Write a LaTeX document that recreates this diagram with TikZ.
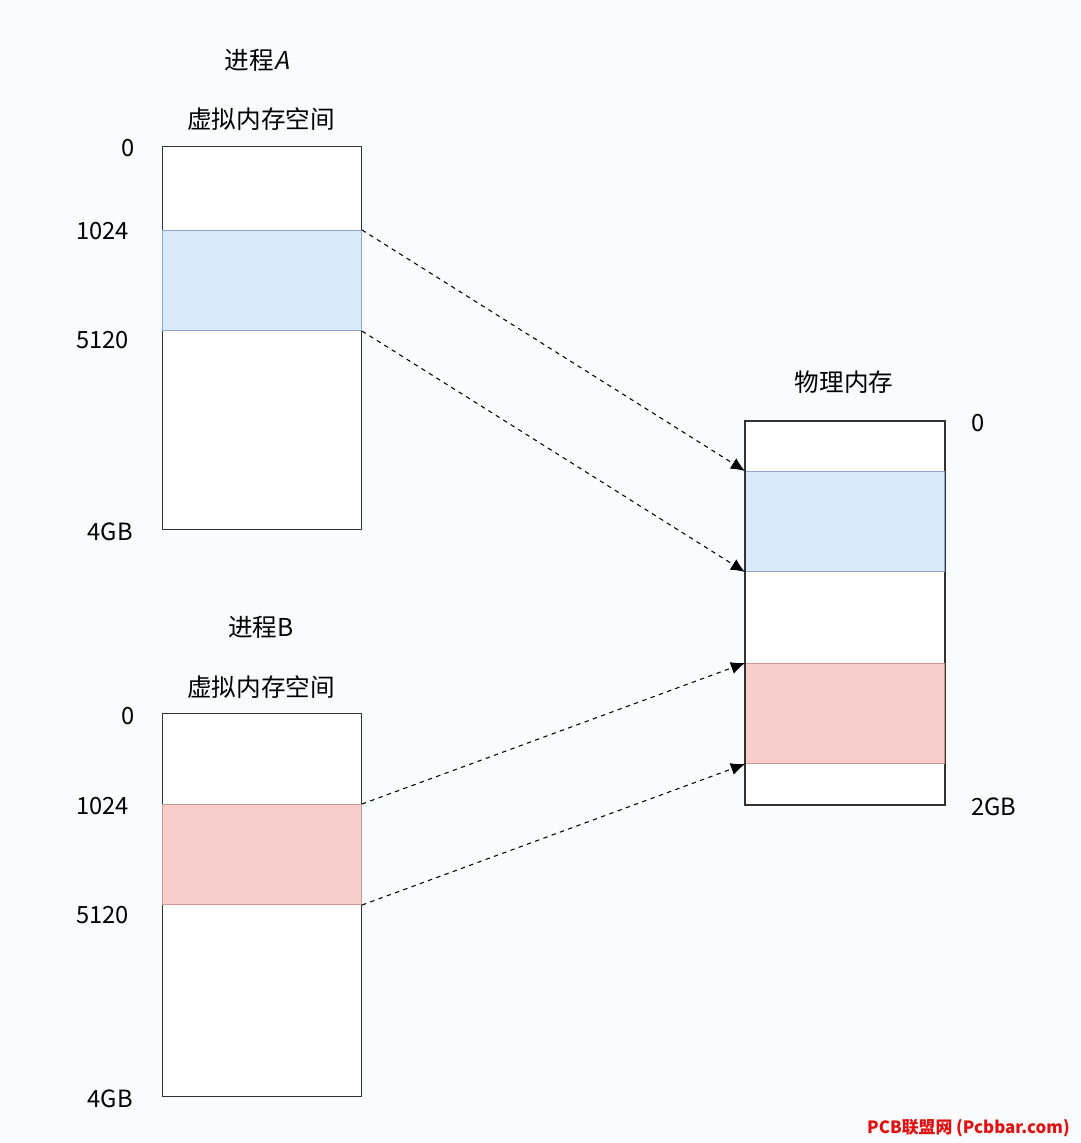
\documentclass[tikz,border=0pt]{standalone}
\usepackage{fontspec}
\setmainfont{Noto Sans CJK SC}
\newfontfamily\slantcjk[FakeSlant=0.2]{Noto Sans CJK SC}
\usepackage{tikz}
\usetikzlibrary{arrows.meta,positioning}
\definecolor{PageBg}{HTML}{FAFBFC}
\definecolor{BoxLine}{HTML}{333333}
\definecolor{BlueFill}{HTML}{DAE8FC}
\definecolor{BlueLine}{HTML}{8FA8CC}
\definecolor{RedFill}{HTML}{F8CECC}
\definecolor{RedLine}{HTML}{C99794}
\definecolor{MarkRed}{HTML}{E01010}
\tikzset{
  membox/.style={draw=BoxLine,fill=white,line width=0.8pt,anchor=north west,
    minimum width=3.98cm,minimum height=7.66cm,inner sep=0pt},
  bluepage/.style={draw=BlueLine,fill=BlueFill,line width=0.6pt,anchor=north west,
    minimum width=3.98cm,minimum height=2cm,inner sep=0pt},
  redpage/.style={bluepage,draw=RedLine,fill=RedFill},
  addr/.style={font=\fontsize{13.5}{16}\selectfont,inner sep=1pt},
  title/.style={font=\fontsize{14}{17}\selectfont,inner sep=1pt},
  maplink/.style={-{Latex[length=8pt,width=7pt]},dash pattern=on 2.5pt off 2.5pt,line width=0.6pt,color=black}
}

\begin{document}
\begin{tikzpicture}[x=0.02cm,y=-0.02cm]
  \fill[PageBg] (0,0) rectangle (1080,1143);
  \useasboundingbox (0,0) rectangle (1080,1143);

  % process A
  \node[title] (procA) at (257,60) {进程{\slantcjk A}};
  \node[title] (vtitleA) at (261,119) {虚拟内存空间};
  \node[membox] (vmA) at (162,146) {};
  \node[bluepage] (pageA) at (162,230) {};
  \node[addr,anchor=east] (a0) at (137,148) {0};
  \node[addr,anchor=east] (a1024) at (131,231) {1024};
  \node[addr,anchor=east] (a5120) at (131,340) {5120};
  \node[addr,anchor=east] (a4g) at (135,532) {4GB};

  % process B
  \node[title] (procB) at (261,627) {进程B};
  \node[title] (vtitleB) at (261,687) {虚拟内存空间};
  \node[membox] (vmB) at (162,713) {};
  \node[redpage] (pageB) at (162,804) {};
  \node[addr,anchor=east] (b0) at (137,716) {0};
  \node[addr,anchor=east] (b1024) at (131,806) {1024};
  \node[addr,anchor=east] (b5120) at (131,915) {5120};
  \node[addr,anchor=east] (b4g) at (135,1099) {4GB};

  % physical memory
  \node[title] (ptitle) at (844,382) {物理内存};
  \node[membox] (phys) at (745,421) {};
  \node[bluepage] (frameA) at (745,471) {};
  \node[redpage] (frameB) at (745,663) {};
  \draw[BoxLine,line width=0.8pt] (phys.north west) rectangle (phys.south east);
  \node[addr,anchor=west] (p0) at (969,423) {0};
  \node[addr,anchor=west] (p2g) at (969,807) {2GB};

  % mappings
  \draw[maplink] (pageA.north east) -- (frameA.north west);
  \draw[maplink] (pageA.south east) -- (frameA.south west);
  \draw[maplink] (pageB.north east) -- (frameB.north west);
  \draw[maplink] (pageB.south east) -- (frameB.south west);

  \node[font=\bfseries\fontsize{9.6}{12}\selectfont,text=MarkRed,anchor=east] (mark) at (1076,1128) {PCB联盟网 (Pcbbar.com)};
\end{tikzpicture}
\end{document}
